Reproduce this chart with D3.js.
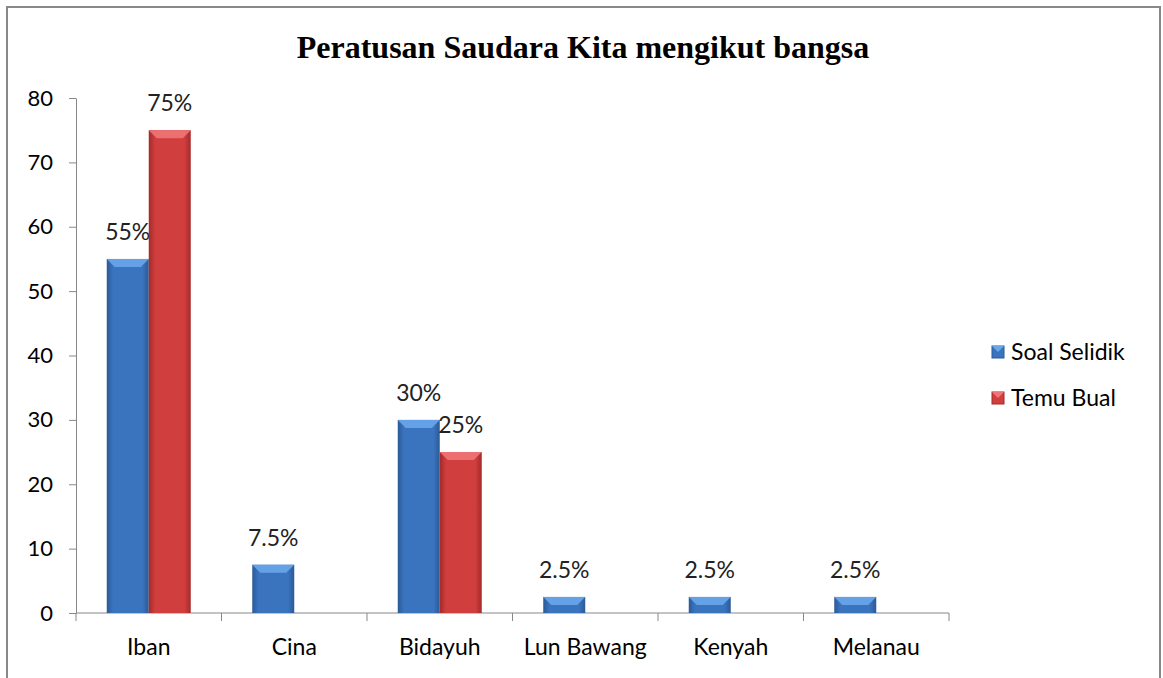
<!DOCTYPE html>
<html><head><meta charset="utf-8">
<script src="https://cdn.jsdelivr.net/npm/d3@7/dist/d3.min.js"></script>
<style>body{margin:0;background:#fff}</style>
</head><body>
<svg id="c" width="1163" height="678"></svg>
<script>
const categories = ["Iban","Cina","Bidayuh","Lun Bawang","Kenyah","Melanau"];
const seriesNames = ["Soal Selidik","Temu Bual"];
const soalSelidik = [55, 7.5, 30, 2.5, 2.5, 2.5];
const temuBual = [75, null, 25, null, null, null];
const yTicks = [0,10,20,30,40,50,60,70,80];
const title = "Peratusan Saudara Kita mengikut bangsa";

const svg = d3.select("#c");
const font = "Lato, 'Open Sans', sans-serif";
// frame
svg.append("rect").attr("x",7).attr("y",7).attr("width",1153).attr("height",690)
  .attr("fill","#fff").attr("stroke","#888").attr("stroke-width",2);

const x0 = d3.scaleBand().domain(categories).range([76,949]);
const x1 = d3.scaleBand().domain(seriesNames).range([x0.bandwidth()/2-42, x0.bandwidth()/2+42]);
const y = d3.scaleLinear().domain([0,80]).range([613,98]);

svg.append("text").attr("x",583).attr("y",58).attr("text-anchor","middle")
  .attr("font-family","'Liberation Serif', 'Times New Roman', serif").attr("font-weight","bold")
  .attr("font-size",32).attr("fill","#000").text(title);

const defs = svg.append("defs");
const cols = {"Soal Selidik":["#2b5a97","#3a74bf","#6aa6ea"],"Temu Bual":["#a32a2a","#d03e3e","#f07575"]};
seriesNames.forEach((s,i)=>{
  const g = defs.append("linearGradient").attr("id","g"+i).attr("x1",0).attr("x2",1).attr("y1",0).attr("y2",0);
  g.append("stop").attr("offset","0").attr("stop-color",cols[s][0]);
  g.append("stop").attr("offset","0.15").attr("stop-color",cols[s][1]);
  g.append("stop").attr("offset","0.85").attr("stop-color",cols[s][1]);
  g.append("stop").attr("offset","1").attr("stop-color",cols[s][0]);
});

// y axis
const yAxis = d3.axisLeft(y).tickValues(yTicks).tickSize(7).tickSizeOuter(0).tickPadding(16);
const ga = svg.append("g").attr("transform","translate(76,0)").call(yAxis);
ga.select(".domain").attr("stroke","#888");
ga.selectAll(".tick line").attr("stroke","#888");
ga.selectAll("text").attr("font-family",font).attr("font-size",22).attr("fill","#000");

// x axis
const xAxis = d3.axisBottom(x0).tickSize(0).tickPadding(26);
const gx = svg.append("g").attr("transform","translate(0,613)").call(xAxis);
gx.select(".domain").attr("stroke","#888").attr("d","M76,0H949");
gx.selectAll("text").attr("font-family",font).attr("font-size",23).attr("fill","#000");
const bounds = categories.map(c=>x0(c)).concat([x0.range()[1]]);
gx.selectAll(".bnd").data(bounds).enter().append("line")
  .attr("x1",d=>d).attr("x2",d=>d).attr("y1",0).attr("y2",8).attr("stroke","#888");

const data = [];
categories.forEach((c,i)=>{
  [soalSelidik[i], temuBual[i]].forEach((v,j)=>{ if(v!=null) data.push({c, s:seriesNames[j], j, v}); });
});
const bw = x1.bandwidth();
const bars = svg.append("g").selectAll("g").data(data).enter().append("g");
bars.append("rect").attr("x",d=>x0(d.c)+x1(d.s)).attr("y",d=>y(d.v)).attr("width",bw)
  .attr("height",d=>y(0)-y(d.v)).attr("fill",d=>"url(#g"+d.j+")");
bars.append("path").attr("d",d=>{
  const xl=x0(d.c)+x1(d.s), yt=y(d.v), b=Math.min(8,(y(0)-y(d.v))/2);
  return `M${xl},${yt}H${xl+bw}L${xl+bw-b},${yt+b}H${xl+b}Z`;
}).attr("fill",d=>cols[d.s][2]).attr("opacity",0.9);

bars.append("text").attr("x",d=>x0(d.c)+x1(d.s)+bw/2).attr("y",d=>y(d.v)-19)
  .attr("text-anchor","middle").attr("font-family",font).attr("font-size",23).attr("fill","#222")
  .text(d=>d.v+"%");

// legend
const lg = svg.append("g");
seriesNames.forEach((s,i)=>{
  const yy = 352 + i*46;
  lg.append("rect").attr("x",992).attr("y",yy-6).attr("width",12).attr("height",12).attr("fill",cols[s][1]).attr("stroke",cols[s][0]);
  lg.append("path").attr("d",`M992,${yy-6}H1004L998,${yy}Z`).attr("fill",cols[s][2]);
  lg.append("text").attr("x",1011).attr("y",yy+8).attr("font-family",font).attr("font-size",23).attr("fill","#000").text(s);
});
</script>
</body></html>
